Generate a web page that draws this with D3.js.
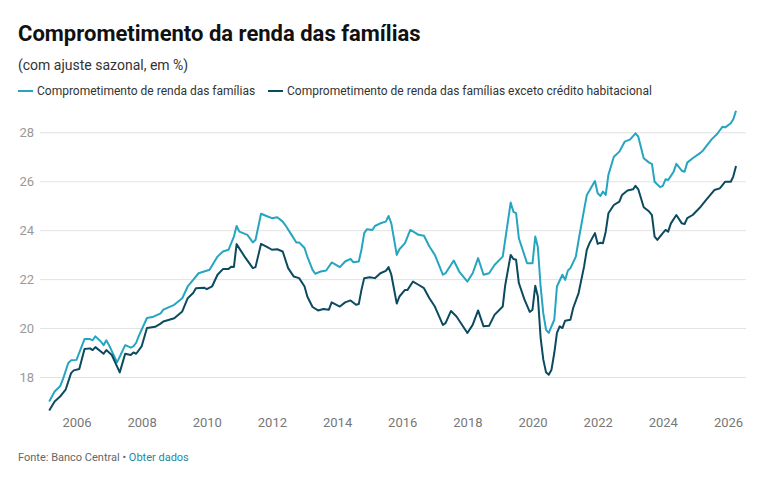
<!DOCTYPE html>
<html>
<head>
<meta charset="utf-8">
<script src="https://cdn.jsdelivr.net/npm/d3@7"></script>
<style>
  body { margin: 0; background: #fff; }
  svg { display: block; font-family: Roboto, "Noto Sans", sans-serif; }
</style>
</head>
<body>
<div class="chart"></div>
<script>
const WIDTH = 780;
const HEIGHT = 478;

const LIGHT = '#25a5c0';
const DARK = '#0c4a5f';

const yTicks = [18, 20, 22, 24, 26, 28];
const seriesNames = [
  'Comprometimento de renda das famílias',
  'Comprometimento de renda das famílias exceto crédito habitacional',
];

// comprometimento total (% da renda, com ajuste sazonal)
const totalSeries = [
  ['2005-03', 17.0], ['2005-05', 17.41], ['2005-07', 17.62], ['2005-08', 17.9], ['2005-10', 18.57],
  ['2005-11', 18.68], ['2006-01', 18.7], ['2006-04', 19.55], ['2006-06', 19.55], ['2006-07', 19.5],
  ['2006-08', 19.66], ['2006-10', 19.45], ['2006-11', 19.3], ['2006-12', 19.5], ['2007-01', 19.3],
  ['2007-04', 18.6], ['2007-07', 19.3], ['2007-09', 19.2], ['2007-10', 19.25], ['2007-11', 19.4],
  ['2007-12', 19.68], ['2008-03', 20.41], ['2008-05', 20.45], ['2008-06', 20.5], ['2008-08', 20.6],
  ['2008-09', 20.75], ['2009-01', 20.95], ['2009-04', 21.22], ['2009-06', 21.7], ['2009-08', 21.97],
  ['2009-10', 22.24], ['2009-12', 22.31], ['2010-02', 22.38], ['2010-05', 22.92], ['2010-07', 23.13],
  ['2010-09', 23.2], ['2010-11', 23.74], ['2010-12', 24.17], ['2011-01', 23.94], ['2011-04', 23.81],
  ['2011-06', 23.5], ['2011-07', 23.6], ['2011-09', 24.67], ['2011-11', 24.58], ['2012-01', 24.49],
  ['2012-03', 24.53], ['2012-05', 24.35], ['2012-06', 24.2], ['2012-08', 23.85], ['2012-10', 23.5],
  ['2012-11', 23.5], ['2013-01', 23.27], ['2013-02', 22.92], ['2013-04', 22.38], ['2013-05', 22.22],
  ['2013-07', 22.31], ['2013-09', 22.35], ['2013-11', 22.68], ['2014-02', 22.49], ['2014-04', 22.72],
  ['2014-06', 22.83], ['2014-07', 22.69], ['2014-09', 22.72], ['2014-10', 23.2], ['2014-11', 23.88],
  ['2014-12', 24.04], ['2015-02', 24.01], ['2015-03', 24.17], ['2015-05', 24.28], ['2015-07', 24.35],
  ['2015-08', 24.58], ['2015-09', 24.28], ['2015-11', 22.99], ['2015-12', 23.22], ['2016-02', 23.47],
  ['2016-04', 24.01], ['2016-06', 23.88], ['2016-07', 23.81], ['2016-09', 23.77], ['2016-11', 23.33],
  ['2017-01', 22.99], ['2017-04', 22.18], ['2017-05', 22.24], ['2017-08', 22.76], ['2017-10', 22.31],
  ['2018-01', 21.9], ['2018-03', 22.24], ['2018-05', 22.86], ['2018-07', 22.18], ['2018-09', 22.24],
  ['2018-11', 22.58], ['2019-02', 22.92], ['2019-03', 23.6], ['2019-05', 25.13], ['2019-06', 24.75],
  ['2019-07', 24.7], ['2019-08', 23.67], ['2019-11', 22.65], ['2020-01', 22.65], ['2020-02', 23.74],
  ['2020-03', 23.3], ['2020-04', 21.7], ['2020-05', 20.6], ['2020-06', 19.93], ['2020-07', 19.8],
  ['2020-09', 20.34], ['2020-10', 21.7], ['2020-12', 22.18], ['2021-01', 21.97], ['2021-02', 22.35],
  ['2021-03', 22.45], ['2021-05', 22.92], ['2021-06', 23.6], ['2021-08', 24.83], ['2021-09', 25.44],
  ['2021-10', 25.62], ['2021-12', 26.01], ['2022-01', 25.51], ['2022-02', 25.4], ['2022-03', 25.58],
  ['2022-04', 25.44], ['2022-05', 26.26], ['2022-07', 27.0], ['2022-09', 27.21], ['2022-11', 27.62],
  ['2023-01', 27.71], ['2023-03', 27.96], ['2023-04', 27.82], ['2023-06', 26.94], ['2023-08', 26.76],
  ['2023-09', 26.71], ['2023-10', 25.98], ['2023-12', 25.76], ['2024-01', 25.81], ['2024-02', 26.08],
  ['2024-03', 26.05], ['2024-04', 26.22], ['2024-05', 26.39], ['2024-06', 26.71], ['2024-08', 26.43],
  ['2024-09', 26.39], ['2024-10', 26.76], ['2024-12', 26.94], ['2025-03', 27.17], ['2025-04', 27.28],
  ['2025-07', 27.71], ['2025-09', 27.93], ['2025-11', 28.23], ['2025-12', 28.2], ['2026-02', 28.37],
  ['2026-03', 28.53], ['2026-04', 28.88],
];

// exceto crédito habitacional
const exHousingSeries = [
  ['2005-03', 16.63], ['2005-05', 17.0], ['2005-07', 17.2], ['2005-09', 17.48], ['2005-11', 18.16],
  ['2005-12', 18.27], ['2006-02', 18.33], ['2006-04', 19.14], ['2006-06', 19.17], ['2006-07', 19.1],
  ['2006-08', 19.22], ['2006-11', 18.95], ['2006-12', 19.1], ['2007-02', 18.9], ['2007-05', 18.19],
  ['2007-07', 18.95], ['2007-09', 18.9], ['2007-10', 19.0], ['2007-11', 18.95], ['2008-01', 19.25],
  ['2008-03', 20.0], ['2008-06', 20.05], ['2008-08', 20.18], ['2008-09', 20.27], ['2009-01', 20.4],
  ['2009-04', 20.68], ['2009-06', 21.22], ['2009-08', 21.43], ['2009-09', 21.63], ['2009-12', 21.65],
  ['2010-01', 21.59], ['2010-03', 21.7], ['2010-05', 22.18], ['2010-07', 22.41], ['2010-09', 22.41],
  ['2010-10', 22.51], ['2010-11', 22.5], ['2010-12', 23.43], ['2011-03', 22.92], ['2011-06', 22.45],
  ['2011-07', 22.49], ['2011-09', 23.44], ['2011-11', 23.33], ['2012-01', 23.2], ['2012-03', 23.22],
  ['2012-05', 23.13], ['2012-07', 22.45], ['2012-09', 22.11], ['2012-11', 22.04], ['2013-01', 21.7],
  ['2013-02', 21.29], ['2013-04', 20.86], ['2013-06', 20.72], ['2013-08', 20.78], ['2013-10', 20.75],
  ['2013-11', 21.05], ['2014-02', 20.88], ['2014-04', 21.05], ['2014-06', 21.13], ['2014-08', 20.95],
  ['2014-09', 20.98], ['2014-10', 21.56], ['2014-11', 22.04], ['2015-01', 22.08], ['2015-03', 22.04],
  ['2015-05', 22.24], ['2015-07', 22.34], ['2015-08', 22.49], ['2015-09', 22.18], ['2015-11', 21.0],
  ['2015-12', 21.29], ['2016-02', 21.56], ['2016-03', 21.56], ['2016-05', 21.9], ['2016-07', 21.77],
  ['2016-09', 21.63], ['2016-11', 21.22], ['2017-01', 20.88], ['2017-04', 20.13], ['2017-05', 20.2],
  ['2017-07', 20.7], ['2017-09', 20.47], ['2018-01', 19.8], ['2018-03', 20.13], ['2018-05', 20.72],
  ['2018-07', 20.07], ['2018-09', 20.09], ['2018-11', 20.54], ['2019-02', 20.88], ['2019-03', 21.75],
  ['2019-05', 22.99], ['2019-06', 22.82], ['2019-07', 22.79], ['2019-08', 21.84], ['2019-10', 21.18],
  ['2019-12', 20.66], ['2020-01', 20.75], ['2020-02', 21.73], ['2020-03', 21.29], ['2020-04', 19.6],
  ['2020-05', 18.71], ['2020-06', 18.19], ['2020-07', 18.09], ['2020-08', 18.3], ['2020-09', 18.98],
  ['2020-10', 19.8], ['2020-11', 20.07], ['2020-12', 20.0], ['2021-01', 20.3], ['2021-03', 20.34],
  ['2021-04', 20.82], ['2021-06', 21.43], ['2021-08', 22.51], ['2021-09', 23.2], ['2021-10', 23.47],
  ['2021-12', 23.88], ['2022-01', 23.44], ['2022-02', 23.49], ['2022-03', 23.47], ['2022-04', 23.94],
  ['2022-05', 24.69], ['2022-07', 25.03], ['2022-09', 25.17], ['2022-10', 25.44], ['2022-12', 25.62],
  ['2023-02', 25.67], ['2023-03', 25.81], ['2023-04', 25.67], ['2023-06', 24.94], ['2023-08', 24.76],
  ['2023-09', 24.62], ['2023-10', 23.74], ['2023-11', 23.6], ['2024-01', 23.88], ['2024-02', 24.01],
  ['2024-03', 23.94], ['2024-04', 24.28], ['2024-06', 24.62], ['2024-08', 24.28], ['2024-09', 24.25],
  ['2024-10', 24.49], ['2024-12', 24.62], ['2025-03', 24.96], ['2025-05', 25.24], ['2025-08', 25.64],
  ['2025-10', 25.71], ['2025-12', 25.98], ['2026-02', 25.98], ['2026-03', 26.19], ['2026-04', 26.62],
];

const parseMonth = d3.timeParse('%Y-%m');

function drawChart() {
  const svg = d3.select('.chart')
    .append('svg')
    .attr('width', WIDTH)
    .attr('height', HEIGHT);

  svg.append('rect')
    .attr('width', WIDTH)
    .attr('height', HEIGHT)
    .attr('fill', '#fff');

  // header
  svg.append('text')
    .attr('x', 18)
    .attr('y', 41)
    .text('Comprometimento da renda das famílias')
    .style('font-size', '22px')
    .style('font-weight', 700)
    .style('fill', '#111');

  svg.append('text')
    .attr('x', 18)
    .attr('y', 70)
    .text('(com ajuste sazonal, em %)')
    .style('font-size', '14px')
    .style('fill', '#333');

  // legend
  const legendX = [18, 268];
  const legendColors = [LIGHT, DARK];
  seriesNames.forEach((name, i) => {
    svg.append('line')
      .attr('x1', legendX[i])
      .attr('x2', legendX[i] + 15)
      .attr('y1', 91)
      .attr('y2', 91)
      .attr('stroke', legendColors[i])
      .attr('stroke-width', 2);
    svg.append('text')
      .attr('x', legendX[i] + 19)
      .attr('y', 95)
      .text(name)
      .style('font-size', '12px')
      .style('fill', '#333');
  });

  // scales
  const x = d3.scaleTime()
    .domain([new Date(2006, 0, 1), new Date(2026, 0, 1)])
    .range([76.5, 728]);
  const y = d3.scaleLinear()
    .domain([18, 28])
    .range([377, 132.3]);

  // grid + y labels
  const yAxis = svg.append('g')
    .attr('transform', 'translate(746,0)')
    .call(d3.axisLeft(y).tickValues(yTicks).tickSize(706).tickFormat(d3.format('d')));
  yAxis.select('.domain').remove();
  yAxis.selectAll('.tick line').attr('stroke', '#e2e2e2');
  yAxis.selectAll('.tick text')
    .attr('x', -712)
    .style('font-family', 'Roboto, sans-serif')
    .style('font-size', '13px')
    .style('fill', '#999');

  // x labels
  const xAxis = svg.append('g')
    .attr('transform', 'translate(0,412)')
    .call(d3.axisBottom(x).ticks(d3.timeYear.every(2)).tickSize(0).tickFormat(d3.timeFormat('%Y')));
  xAxis.select('.domain').remove();
  xAxis.selectAll('.tick text')
    .attr('dy', '0.9em')
    .style('font-family', 'Roboto, sans-serif')
    .style('font-size', '13px')
    .style('fill', '#777');

  // lines
  const line = d3.line()
    .x((d) => x(parseMonth(d[0])))
    .y((d) => y(d[1]));

  svg.append('path')
    .datum(totalSeries)
    .attr('d', line)
    .attr('fill', 'none')
    .attr('stroke', LIGHT)
    .attr('stroke-width', 2)
    .attr('stroke-linejoin', 'round');

  svg.append('path')
    .datum(exHousingSeries)
    .attr('d', line)
    .attr('fill', 'none')
    .attr('stroke', DARK)
    .attr('stroke-width', 2)
    .attr('stroke-linejoin', 'round');

  // footer
  const footer = svg.append('text')
    .attr('x', 18)
    .attr('y', 461)
    .style('font-size', '11px')
    .style('fill', '#666');
  footer.append('tspan').text('Fonte: Banco Central • ');
  footer.append('tspan').text('Obter dados').style('fill', '#1b8aa6');
}

drawChart();
</script>
</body>
</html>
